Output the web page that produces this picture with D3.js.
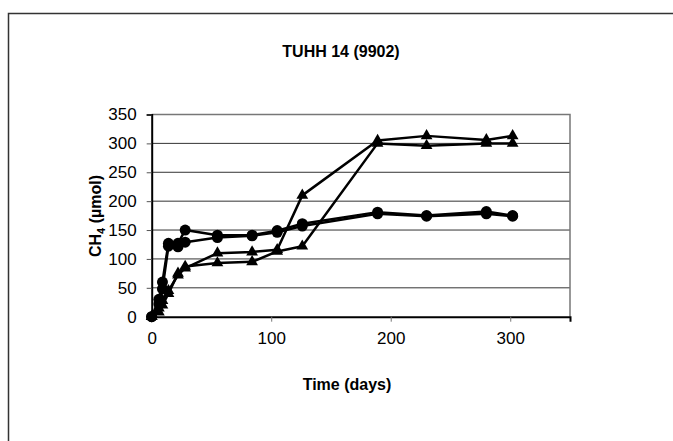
<!DOCTYPE html>
<html>
<head>
<meta charset="utf-8">
<script src="https://cdn.jsdelivr.net/npm/d3@7"></script>
<style>
  html, body { margin: 0; padding: 0; background: #fff; }
  svg { display: block; font-family: "Liberation Sans", Arial, sans-serif; }
</style>
</head>
<body>
<svg id="chart" width="673" height="441"></svg>
<script>
// ---- data ----
const days = [0, 6, 9, 14, 22, 28, 55, 84, 105, 126, 189, 230, 280, 302];
const circleA = [0, 30, 60, 127, 127, 150, 141, 141, 149, 161, 181, 175, 182, 175];
const circleB = [0, 22, 48, 122, 121, 129, 137, 140, 146, 157, 178, 174, 178, 174];
const triangleA = [0, 15, 28, 45, 72, 84, 110, 112, 116, 210, 305, 313, 306, 313];
const triangleB = [0, 8, 20, 40, 75, 87, 93, 95, 113, 122, 300, 296, 300, 300];
const xTicks = [0, 100, 200, 300];
const yTicks = [0, 50, 100, 150, 200, 250, 300, 350];
const title = "TUHH 14 (9902)";
const xTitle = "Time (days)";

const series = [
  { values: triangleB, marker: "triangle" },
  { values: triangleA, marker: "triangle" },
  { values: circleB, marker: "circle" },
  { values: circleA, marker: "circle" }
];

const svg = d3.select("#chart");

// outer frame
svg.append("rect")
  .attr("x", 8.5).attr("y", 13.5)
  .attr("width", 700).attr("height", 460)
  .attr("fill", "none").attr("stroke", "#333").attr("stroke-width", 1.5);

const pLeft = 151.7, pRight = 570, pTop = 114.5, pBottom = 316.7;
const x = d3.scaleLinear().domain([0, 350]).range([pLeft, pRight]);
const y = d3.scaleLinear().domain([0, 350]).range([pBottom, pTop]);

// gridlines
svg.append("g").selectAll("line")
  .data(yTicks.filter(d => d > 0 && d < 350))
  .join("line")
  .attr("x1", pLeft).attr("x2", pRight)
  .attr("y1", d => y(d)).attr("y2", d => y(d))
  .attr("stroke", "#333").attr("stroke-width", 1);

// plot border top/right
svg.append("path")
  .attr("d", `M${pLeft},${pTop}H${pRight}V${pBottom}`)
  .attr("fill", "none").attr("stroke", "#777").attr("stroke-width", 1.5);

// axes
const yAxis = d3.axisLeft(y).tickValues(yTicks).tickSize(5).tickPadding(10).tickFormat(d3.format("d"));
const gy = svg.append("g").attr("transform", `translate(${pLeft},0)`).call(yAxis);
gy.select(".domain").attr("stroke", "#000").attr("stroke-width", 2);
gy.selectAll(".tick line").attr("stroke", "#555");
gy.selectAll(".tick text").attr("font-size", 17).attr("fill", "#000")
  .style("font-family", "'Liberation Sans', Arial, sans-serif");

const xAxis = d3.axisBottom(x).tickValues(xTicks).tickSize(5).tickPadding(10).tickFormat(d3.format("d"));
const gx = svg.append("g").attr("transform", `translate(0,${pBottom})`).call(xAxis);
gx.select(".domain").attr("stroke", "#000").attr("stroke-width", 2);
gx.selectAll(".tick line").attr("stroke", "#777");
gx.selectAll(".tick text").attr("font-size", 17).attr("fill", "#000")
  .style("font-family", "'Liberation Sans', Arial, sans-serif");

// lines and markers
const line = d3.line().x((d, i) => x(days[i])).y(d => y(d));
const triSym = d3.symbol().type(d3.symbolTriangle).size(60);
const cirSym = d3.symbol().type(d3.symbolCircle).size(95);

series.forEach(s => {
  svg.append("path")
    .datum(s.values)
    .attr("d", line)
    .attr("fill", "none").attr("stroke", "#000").attr("stroke-width", 2.5)
    .attr("stroke-linejoin", "round");
});
series.forEach(s => {
  svg.append("g").selectAll("path")
    .data(s.values)
    .join("path")
    .attr("transform", (d, i) => `translate(${x(days[i])},${y(d)})`)
    .attr("d", s.marker === "triangle" ? triSym : cirSym)
    .attr("fill", "#000");
});

// titles
svg.append("text")
  .attr("x", 341).attr("y", 57)
  .attr("text-anchor", "middle")
  .attr("font-size", 16).attr("font-weight", "bold")
  .text(title);

svg.append("text")
  .attr("x", 347).attr("y", 390)
  .attr("text-anchor", "middle")
  .attr("font-size", 16).attr("font-weight", "bold")
  .text(xTitle);

const yt = svg.append("text")
  .attr("transform", "translate(101,216) rotate(-90)")
  .attr("text-anchor", "middle")
  .attr("font-size", 16).attr("font-weight", "bold");
yt.append("tspan").text("CH");
yt.append("tspan").attr("font-size", 11).attr("dy", 4).text("4");
yt.append("tspan").attr("dy", -4).text(" (µmol)");
</script>
</body>
</html>
